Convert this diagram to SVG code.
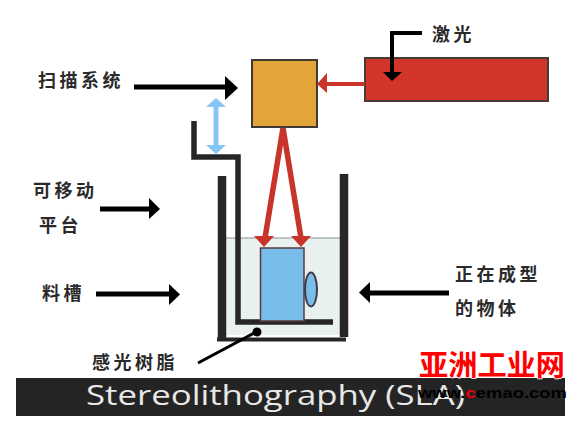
<svg xmlns="http://www.w3.org/2000/svg" width="577" height="424" viewBox="0 0 577 424">
<style>
.cn{font-family:"Noto Sans CJK SC","Noto Sans CJK JP",sans-serif;font-size:18px;font-weight:700;fill:#2a2a2a;letter-spacing:3.500px}
.blk{stroke:#000;fill:none;stroke-linecap:butt}
.wall{stroke:#262626;fill:none}
.red{stroke:#c8342a;fill:none}
</style>
<rect width="577" height="424" fill="#fff"/>
<g id="resin"><rect x="226" y="238" width="114" height="97" fill="#e8f1f0"/><line x1="226" y1="238" x2="340" y2="238" stroke="#8a8f8f" stroke-width="1"/></g>
<g id="scanner"><rect x="252" y="60" width="65" height="67" fill="#e3a43a" stroke="#3d3a36" stroke-width="2"/></g>
<g id="laser"><rect x="365" y="58" width="183" height="43" fill="#d1352a" stroke="#4a3a36" stroke-width="2"/></g>
<g id="tank"><path class="wall" d="M222 176V339M344 174V337" stroke-width="8.500"/><path class="wall" d="M217 339.500H346" stroke-width="4"/></g>
<g id="platform"><path class="wall" d="M194 121V157H238V322H333" stroke-width="5.500"/></g>
<g id="part"><rect x="260.500" y="248" width="43.500" height="73" fill="#79bdea" stroke="#5a3a3e" stroke-width="1.500"/><ellipse cx="311" cy="289.500" rx="6" ry="17" fill="#79bdea" stroke="#3d3d4a" stroke-width="2"/></g>
<g id="connectors">
<path class="red" d="M365 84H322" stroke-width="4"/><path d="M317 84L327 73V93Z" fill="#c8342a"/>
<path class="red" d="M283 128L265 238M283 128L301 238" stroke-width="5.500"/>
<path d="M254 236H274L264 247Z M291 236H311L301 247Z" fill="#c8342a"/>
<path d="M216 103V150" stroke="#85c6f2" stroke-width="5" fill="none"/><path d="M206 107L216 98L226 107ZM206 145L216 154L226 145Z" fill="#85c6f2"/>
<path class="blk" d="M134 87H226" stroke-width="5"/><path d="M225 76L238 88L225 100Z" fill="#000"/>
<path class="blk" d="M422 33H392V72" stroke-width="4"/><path d="M383 72H402L392 81Z" fill="#000"/>
<path class="blk" d="M100 209H150" stroke-width="5"/><path d="M149 198L160 209L149 219Z" fill="#000"/>
<path class="blk" d="M96 294H170" stroke-width="5"/><path d="M169 284L180 294.500L169 305Z" fill="#000"/>
<path class="blk" d="M449 293H369" stroke-width="5"/><path d="M370 282L359 292.500L370 303Z" fill="#000"/>
<path class="blk" d="M198 363L256 332" stroke-width="3"/><circle cx="257" cy="332" r="4.500" fill="#000"/>
</g>
<g id="labels">
<text class="cn" x="38" y="87">扫描系统</text>
<text class="cn" x="432" y="41">激光</text>
<text class="cn" x="33" y="197">可移动</text>
<text class="cn" x="39" y="232">平台</text>
<text class="cn" x="42" y="300">料槽</text>
<text class="cn" x="455" y="281">正在成型</text>
<text class="cn" x="455" y="315">的物体</text>
<text class="cn" x="92" y="369">感光树脂</text>
</g>
<g id="banner"><rect x="16" y="378" width="549" height="38" fill="#252425"/>
<text x="86" y="405" font-family="Open Sans,Noto Sans,sans-serif" font-size="28" font-weight="500" fill="#e8e8e8" textLength="379" lengthAdjust="spacingAndGlyphs">Stereolithography (SLA)</text></g>
<g id="watermark">
<text x="419" y="376" font-family="Noto Sans CJK SC,sans-serif" font-size="29" font-weight="700" fill="#f00" stroke="#fff" stroke-width="1.500" paint-order="stroke" textLength="146" lengthAdjust="spacingAndGlyphs">亚洲工业网</text>
<text x="418" y="398" font-family="Liberation Sans,sans-serif" font-size="15" font-weight="700" fill="#000" textLength="149" lengthAdjust="spacingAndGlyphs">www.<tspan fill="#e00">c</tspan>emao.com</text>
</g>
</svg>
